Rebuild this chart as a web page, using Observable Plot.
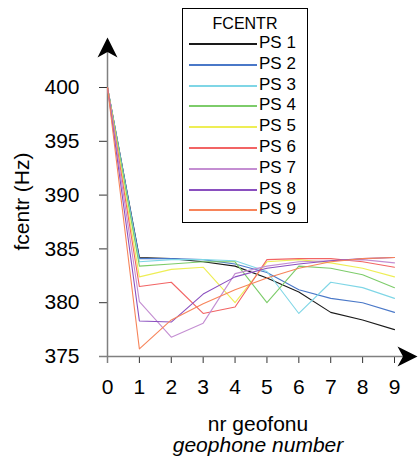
<!DOCTYPE html>
<html>
<head>
<meta charset="utf-8">
<script src="https://cdn.jsdelivr.net/npm/d3@7"></script>
<script src="https://cdn.jsdelivr.net/npm/@observablehq/plot@0.6"></script>
<style>
  html, body { margin: 0; padding: 0; background: #fff; }
  #wrap { position: relative; width: 418px; height: 459px; font-family: "Liberation Sans", Arial, sans-serif; }
  #legend { position: absolute; left: 182px; top: 8px; width: 124px; height: 213px; border: 1px solid #000; background: #fff; }
  #legend .title { position: absolute; left: 0; width: 100%; top: 6px; text-align: center; font-size: 16px; line-height: 18px; color: #000; }
  #legend .item { position: absolute; left: 6px; height: 20px; width: 118px; }
  #legend .sw { position: absolute; left: 0; top: 10px; width: 68px; height: 2px; }
  #legend .lab { position: absolute; left: 70px; top: 0; font-size: 17px; line-height: 20px; color: #000; white-space: nowrap; }
</style>
</head>
<body>
<div id="wrap"></div>
<script>
// ---- data ----
const geophone = [0, 1, 2, 3, 4, 5, 6, 7, 8, 9];
const seriesNames = ["PS 1", "PS 2", "PS 3", "PS 4", "PS 5", "PS 6", "PS 7", "PS 8", "PS 9"];
const ps1 = [400, 384.2, 384.1, 383.8, 383.4, 382.3, 381.0, 379.1, 378.4, 377.5];
const ps2 = [400, 384.1, 384.1, 384.0, 383.6, 382.8, 381.2, 380.4, 380.0, 379.1];
const ps3 = [400, 383.8, 384.0, 384.0, 383.9, 382.9, 379.0, 381.9, 381.4, 380.4];
const ps4 = [400, 383.4, 383.6, 383.8, 383.8, 380.0, 383.4, 383.2, 382.6, 381.4];
const ps5 = [400, 382.4, 383.1, 383.3, 380.0, 383.8, 384.0, 383.7, 383.2, 382.4];
const ps6 = [400, 381.5, 381.9, 379.0, 379.6, 384.0, 384.1, 384.1, 383.8, 383.3];
const ps7 = [400, 380.1, 376.8, 378.1, 382.7, 383.4, 383.8, 383.9, 384.0, 383.7];
const ps8 = [400, 378.3, 378.2, 380.8, 382.4, 383.2, 383.6, 383.9, 384.1, 384.2];
const ps9 = [400, 375.7, 378.4, 379.9, 381.2, 382.3, 383.2, 383.8, 384.1, 384.2];
const yTicks = [375, 380, 385, 390, 395, 400];
const xTicks = geophone;
const legendTitle = "FCENTR";
const yTitle = "fcentr (Hz)";
const xTitle1 = "nr geofonu";
const xTitle2 = "geophone number";

// ---- styles ----
const colors = ["#1a1a1a", "#4a78c8", "#7fd6e6", "#7dcc6a", "#eeee55", "#f26464", "#c48ed2", "#8a4fbf", "#f7845a"];

const allSeries = [ps1, ps2, ps3, ps4, ps5, ps6, ps7, ps8, ps9];
const rows = [];
allSeries.forEach((vals, si) => vals.forEach((v, i) => rows.push({series: seriesNames[si], x: geophone[i], y: v})));

const xDom = [d3.min(xTicks), d3.max(xTicks)];
const yDom = [d3.min(yTicks), d3.max(yTicks)];
const xPerPx = (xDom[1] - xDom[0]) / 287;
const yPerPx = (yDom[1] - yDom[0]) / 269;

const arrowUp = {draw(ctx, size) {
  const r = Math.sqrt(size / Math.PI);
  ctx.moveTo(0, 0); ctx.lineTo(-r, 2 * r); ctx.lineTo(0, 1.45 * r); ctx.lineTo(r, 2 * r); ctx.closePath();
}};
const arrowRight = {draw(ctx, size) {
  const r = Math.sqrt(size / Math.PI);
  ctx.moveTo(0, 0); ctx.lineTo(-2 * r, -r); ctx.lineTo(-1.45 * r, 0); ctx.lineTo(-2 * r, r); ctx.closePath();
}};

const yAxisLine = [{x: xDom[0], y1: yDom[0] - 7 * yPerPx, y2: yDom[1] + 47 * yPerPx}];
const xAxisLine = [{y: yDom[0], x1: xDom[0] - 8 * xPerPx, x2: xDom[1] + 20 * xPerPx}];
const upTip = [{x: xDom[0], y: yDom[1] + 50 * yPerPx}];
const rightTip = [{x: xDom[1] + 23 * xPerPx, y: yDom[0]}];

const chart = Plot.plot({
  width: 418,
  height: 459,
  marginLeft: 107,
  marginRight: 24,
  marginTop: 87,
  marginBottom: 103,
  style: {fontFamily: "'Liberation Sans', Arial, sans-serif", fontSize: "21px", background: "transparent", color: "#000"},
  x: {domain: xDom},
  y: {domain: yDom},
  color: {domain: seriesNames, range: colors},
  marks: [
    Plot.axisY(yTicks, {tickSize: 8, tickPadding: 20, label: null, stroke: "#333"}),
    Plot.axisX(xTicks, {tickSize: 7, tickPadding: 16, label: null, stroke: "#333"}),
    Plot.ruleX(yAxisLine, {x: "x", y1: "y1", y2: "y2", stroke: "#808080", strokeWidth: 1.5}),
    Plot.ruleY(xAxisLine, {y: "y", x1: "x1", x2: "x2", stroke: "#808080", strokeWidth: 1.5}),
    Plot.line(rows, {x: "x", y: "y", z: "series", stroke: "series", strokeWidth: 1.1}),
    Plot.dot(upTip, {x: "x", y: "y", symbol: arrowUp, r: 10, fill: "#000", stroke: "none"}),
    Plot.dot(rightTip, {x: "x", y: "y", symbol: arrowRight, r: 10, fill: "#000", stroke: "none"}),
    Plot.text([yTitle], {frameAnchor: "top-left", dx: -85, dy: 114, rotate: -90, textAnchor: "middle", lineAnchor: "middle", fontSize: 21}),
    Plot.text([xTitle1], {frameAnchor: "bottom", dx: 7, dy: 68, textAnchor: "middle", lineAnchor: "middle", fontSize: 21}),
    Plot.text([xTitle2], {frameAnchor: "bottom", dx: 7, dy: 89, textAnchor: "middle", lineAnchor: "middle", fontSize: 21, fontStyle: "italic"})
  ]
});

const wrap = document.getElementById("wrap");
wrap.appendChild(chart);

// legend
const lg = document.createElement("div");
lg.id = "legend";
const t = document.createElement("div");
t.className = "title";
t.textContent = legendTitle;
lg.appendChild(t);
seriesNames.forEach((name, i) => {
  const it = document.createElement("div");
  it.className = "item";
  it.style.top = Math.round(24 + 20.8 * i) + "px";
  const sw = document.createElement("div");
  sw.className = "sw";
  sw.style.backgroundColor = colors[i];
  const lab = document.createElement("div");
  lab.className = "lab";
  lab.textContent = name;
  it.appendChild(sw); it.appendChild(lab);
  lg.appendChild(it);
});
wrap.appendChild(lg);
</script>
</body>
</html>
